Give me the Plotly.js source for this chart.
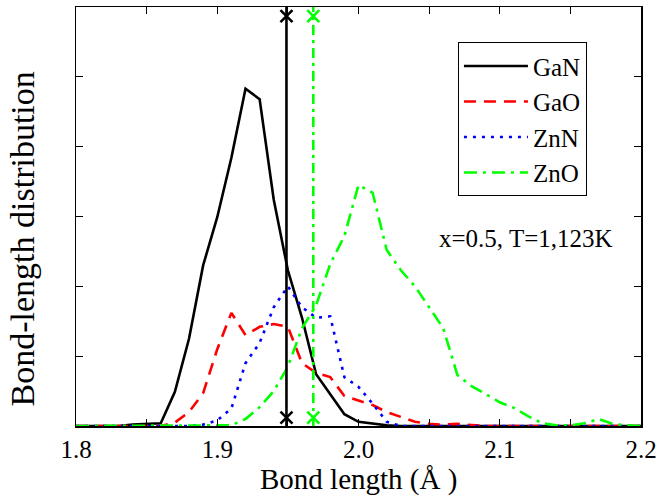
<!DOCTYPE html>
<html>
<head>
<meta charset="utf-8">
<script src="https://cdn.plot.ly/plotly-3.0.1.min.js"></script>
<style>html,body{margin:0;padding:0;background:#fff;}#chart{width:659px;height:497px;}</style>
</head>
<body>
<div id="chart"></div>
<script>
// Bond length bins (Å)
var bondLength = [1.80,1.81,1.82,1.83,1.84,1.85,1.86,1.87,1.88,1.89,1.90,1.91,1.92,1.93,1.94,1.95,1.96,1.97,1.98,1.99,2.00,2.01,2.02,2.03,2.04,2.05,2.06,2.07,2.08,2.09,2.10,2.11,2.12,2.13,2.14,2.15,2.16,2.17,2.18,2.19,2.20];
// Distributions (arbitrary units)
var GaN = [0,0,0,0,0.02,0.03,0.04,0.49,1.25,2.30,2.99,3.84,4.83,4.68,3.24,2.23,1.55,0.74,0.46,0.17,0.06,0.03,0.01,0,0,0,0,0,0,0,0,0,0,0,0,0,0,0,0,0,0];
var GaO = [0,0,0,0,0,0,0,0.05,0.20,0.47,1.10,1.62,1.30,1.42,1.46,1.42,0.90,0.76,0.70,0.43,0.36,0.30,0.20,0.13,0.06,0.03,0.02,0.03,0.01,0,0,0,0,0,0,0.01,0,0,0,0,0];
var ZnN = [0,0,0,0,0,0,0,0,0,0.02,0.08,0.25,0.90,1.19,1.70,2.00,1.70,1.55,1.57,0.70,0.56,0.32,0.06,0,0,0,0,0,0,0,0,0,0,0,0,0,0,0,0,0,0];
var ZnO = [0,0,0,0,0,0,0,0,0,0,0,0.01,0.10,0.27,0.50,0.85,1.40,1.73,2.32,2.72,3.45,3.34,2.52,2.23,2.00,1.70,1.40,0.73,0.57,0.46,0.34,0.26,0.14,0.04,0.01,0.01,0.04,0.10,0.03,0.01,0];
// Average bond lengths
var meanGaN = 1.949;
var meanZnO = 1.968;
// Axis ticks
var xTickVals = [1.80,1.85,1.90,1.95,2.00,2.05,2.10,2.15,2.20];
var xTickText = ['1.8','','1.9','','2.0','','2.1','','2.2'];
var yRange = [0, 6];

var font = 'Liberation Serif';
var lw = 2.6;
var traces = [
  {x: bondLength, y: GaN, name: 'GaN', mode: 'lines', line: {color: '#000000', width: lw}},
  {x: bondLength, y: GaO, name: 'GaO', mode: 'lines', line: {color: '#ff0000', width: lw, dash: '12px,8px'}},
  {x: bondLength, y: ZnN, name: 'ZnN', mode: 'lines', line: {color: '#0000ff', width: lw, dash: '3px,6px'}},
  {x: bondLength, y: ZnO, name: 'ZnO', mode: 'lines', line: {color: '#00ff00', width: lw, dash: '13px,6px,3px,6px'}},
  {x: [meanGaN, meanGaN], y: yRange, mode: 'lines', showlegend: false, line: {color: '#000000', width: lw}},
  {x: [meanZnO, meanZnO], y: yRange, mode: 'lines', showlegend: false, line: {color: '#00ff00', width: lw, dash: '10px,5px,3px,5px'}},
  {x: [meanGaN, meanGaN], y: [yRange[0] + 0.12, yRange[1] - 0.13], mode: 'markers', showlegend: false, cliponaxis: false,
   marker: {symbol: 'x-thin', size: 12, line: {color: '#000000', width: 2.6}}},
  {x: [meanZnO, meanZnO], y: [yRange[0] + 0.12, yRange[1] - 0.13], mode: 'markers', showlegend: false, cliponaxis: false,
   marker: {symbol: 'x-thin', size: 12, line: {color: '#00ff00', width: 2.6}}}
];

var layout = {
  width: 659, height: 497,
  margin: {l: 76, r: 18, t: 7, b: 71},
  paper_bgcolor: '#ffffff', plot_bgcolor: '#ffffff',
  font: {family: font, color: '#000000', size: 25},
  showlegend: true,
  legend: {x: 0.676, y: 0.916, xanchor: 'left', yanchor: 'top', bgcolor: '#ffffff',
           bordercolor: '#000000', borderwidth: 1, font: {family: font, size: 25, color: '#000'},
           itemwidth: 64, tracegroupgap: 0},
  xaxis: {range: [1.8, 2.2], tickvals: xTickVals, ticktext: xTickText, ticks: 'inside', ticklen: 7,
          tickwidth: 1.2, tickcolor: '#000', showline: true, linecolor: '#000', linewidth: 1.5, mirror: 'ticks',
          showgrid: false, zeroline: false, tickfont: {family: font, size: 25, color: '#000'}},
  yaxis: {range: yRange, dtick: 1, ticks: 'inside', ticklen: 7, tickwidth: 1.2, tickcolor: '#000',
          showticklabels: false, showline: true, linecolor: '#000', linewidth: 1.5, mirror: 'ticks',
          showgrid: false, zeroline: false},
  annotations: [
    {text: 'x=0.5, T=1,123K', xref: 'paper', yref: 'paper', x: 0.796, y: 0.447,
     xanchor: 'center', yanchor: 'middle', showarrow: false, font: {family: font, size: 25, color: '#000'}},
    {text: 'Bond length (Å )', xref: 'paper', yref: 'paper', x: 0.5, y: -0.1265,
     xanchor: 'center', yanchor: 'middle', showarrow: false, font: {family: font, size: 29, color: '#000'}},
    {text: 'Bond-length distribution', xref: 'paper', yref: 'paper', x: -0.095, y: 0.446, textangle: -90,
     xanchor: 'center', yanchor: 'middle', showarrow: false, font: {family: font, size: 34, color: '#000'}}
  ]
};

Plotly.newPlot('chart', traces, layout, {displayModeBar: false, staticPlot: true});
</script>
</body>
</html>
